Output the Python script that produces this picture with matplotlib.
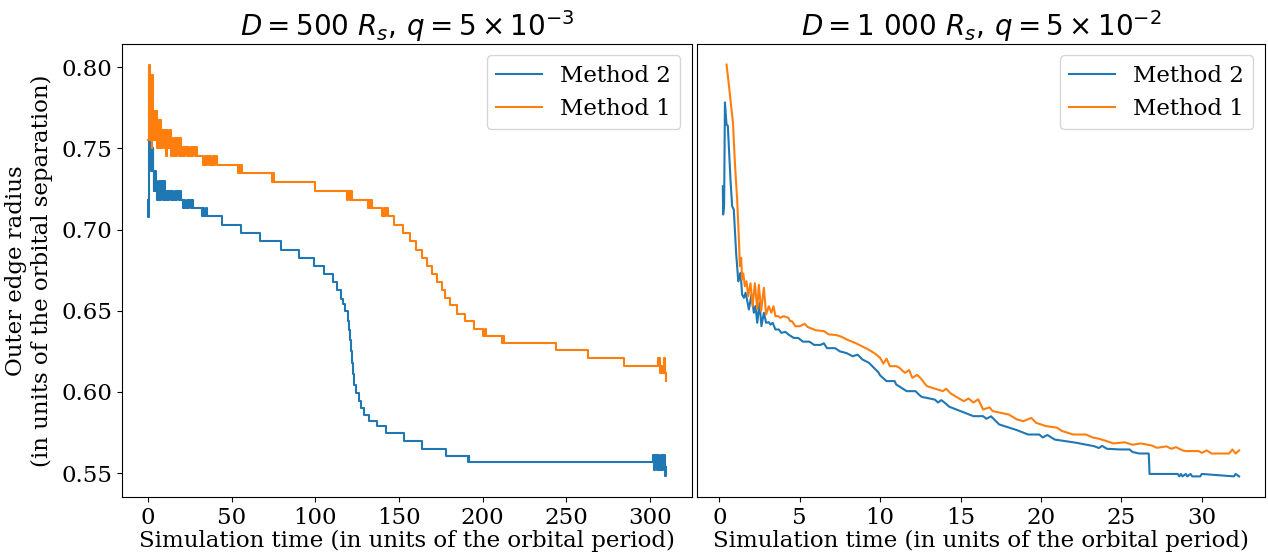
import matplotlib
matplotlib.use("Agg")
import matplotlib.pyplot as plt

# ---- left run: D = 500 Rs, q = 5e-3 (step data) ----
left_m2_t = [0.0, 0.3, 0.6, 0.8, 1.05, 1.3, 1.55, 1.8, 2.1, 2.4, 2.7, 3.0, 3.3,
             3.6, 3.9, 4.2, 4.5, 4.8, 5.1, 5.6, 6.4, 7.2, 8.0, 8.8, 9.6, 10.4,
             11.2, 12.0, 12.8, 13.6, 14.4, 15.2, 16.0, 16.8, 17.6, 18.4, 19.2,
             20.0, 20.8, 21.6, 22.4, 23.2, 24.0, 24.8, 25.6, 26.4, 27.1,
             32.1, 32.9, 33.7, 34.5, 35.3, 36.1, 44.5, 55.7, 67.0, 79.6, 90.0,
             99.0, 105.0, 110.6, 113.0, 115.4, 116.6, 118.0, 119.4, 120.4,
             121.0, 121.6, 122.2, 122.8, 123.4, 124.6, 126.0, 127.4, 129.0,
             132.3, 136.9, 142.5, 152.9, 163.9, 178.4, 191.2, 191.6, 192.0,
             301.6, 302.4, 303.2, 304.0, 304.8, 305.6, 306.4, 307.2, 308.0,
             308.8, 309.2, 309.6]
left_m2_r = [0.718, 0.708, 0.716, 0.7555, 0.740, 0.7555, 0.740, 0.7504, 0.736,
             0.7504, 0.736, 0.7504, 0.736, 0.7237, 0.736, 0.7237, 0.736, 0.7237,
             0.7298, 0.7185, 0.7298, 0.7185, 0.7298, 0.7185, 0.7298, 0.7185,
             0.7237, 0.7185, 0.7237, 0.7185, 0.7237, 0.7185, 0.7237, 0.7185,
             0.7237, 0.7185, 0.7237, 0.7185, 0.7134, 0.7185, 0.7134, 0.7185,
             0.7134, 0.7185, 0.7134, 0.7185, 0.7134,
             0.7083, 0.7134, 0.7083, 0.7134, 0.7083, 0.7083, 0.7031, 0.698,
             0.6929, 0.6877, 0.6826, 0.6775, 0.6724, 0.6676, 0.6627, 0.6574,
             0.6545, 0.6500, 0.6440, 0.6380, 0.6320, 0.6250, 0.6180, 0.6110,
             0.6040, 0.5995, 0.5943, 0.5903, 0.5861, 0.5820, 0.5789, 0.5749,
             0.5697, 0.5650, 0.5605, 0.5568, 0.5605, 0.5568,
             0.5609, 0.5518, 0.5609, 0.5518, 0.5609, 0.5518, 0.5609, 0.5518,
             0.5609, 0.5518, 0.5482, 0.5540]

left_m1_t = [0.2, 0.4, 0.6, 0.8, 1.0, 1.2, 1.5, 1.8, 2.1, 2.4, 2.5, 2.7, 3.0,
             3.2, 3.6, 4.0, 4.4, 4.8, 5.2, 5.9, 6.6, 7.3, 8.0, 8.6, 9.4, 10.2,
             11.0, 11.4, 12.2, 13.0, 13.6, 14.4, 15.2, 16.0, 16.8, 17.6, 18.4,
             19.2, 20.0, 20.8, 21.6, 22.4, 23.2, 24.0, 24.8, 25.6, 26.4, 27.2,
             28.0, 28.8, 29.6, 33.1, 33.9, 34.7, 35.5, 36.3, 37.1, 37.9, 38.7,
             39.5, 40.3, 41.1, 53.7, 54.4, 55.1, 55.8, 56.3, 74.0, 74.7, 75.4,
             100.0, 119.0, 119.8, 120.6, 121.4, 122.2, 131.3, 132.0, 132.7,
             133.4, 134.0, 140.0, 140.8, 141.6, 142.4, 143.2, 146.9, 152.5,
             156.5, 160.4, 163.9, 166.7, 169.6, 172.5, 175.5, 177.8, 180.8,
             184.8, 189.5, 194.8, 200.4, 201.2, 202.0, 211.4, 212.2, 213.0,
             244.0, 262.7, 284.6, 304.9, 305.7, 306.5, 307.3, 308.1, 308.9,
             309.3, 309.6]
left_m1_r = [0.7555, 0.8017, 0.7555, 0.8017, 0.7555, 0.7955, 0.7555, 0.7955,
             0.7555, 0.7955, 0.7504, 0.7955, 0.7555, 0.7729, 0.7555, 0.7729,
             0.7555, 0.7729, 0.7504, 0.7678, 0.7504, 0.7678, 0.7504, 0.7616,
             0.7504, 0.7616, 0.7452, 0.7616, 0.7504, 0.7616, 0.7452, 0.7565,
             0.7452, 0.7565, 0.7452, 0.7565, 0.7452, 0.7565, 0.7452, 0.7507,
             0.7452, 0.7507, 0.7452, 0.7507, 0.7452, 0.7507, 0.7452, 0.7507,
             0.7452, 0.7507, 0.7452, 0.7401, 0.7452, 0.7401, 0.7452, 0.7401,
             0.7452, 0.7401, 0.7452, 0.7401, 0.7452, 0.7401, 0.7350, 0.7401,
             0.7350, 0.7401, 0.7350, 0.7294, 0.7350, 0.7294,
             0.7237, 0.7185, 0.7237, 0.7185, 0.7237, 0.7185, 0.7134, 0.7185,
             0.7134, 0.7185, 0.7134, 0.7083, 0.7134, 0.7083, 0.7134, 0.7083,
             0.7031, 0.6980, 0.6929, 0.6877, 0.6826, 0.6775, 0.6727, 0.6676,
             0.6631, 0.6580, 0.6533, 0.6483, 0.6436, 0.6389, 0.6344, 0.6389,
             0.6344, 0.6299, 0.6344, 0.6299, 0.6257, 0.6210, 0.6163,
             0.6210, 0.6118, 0.6163, 0.6118, 0.6210, 0.6118, 0.6067, 0.6118]

# ---- right run: D = 1 000 Rs, q = 5e-2 ----
right_m2_t = [0.22, 0.24, 0.30, 0.35, 0.45, 0.53, 0.70, 0.80, 0.90, 1.05, 1.18,
              1.22, 1.32, 1.42, 1.53, 1.63, 1.74, 1.84, 2.0, 2.15, 2.25, 2.36,
              2.5, 2.62, 2.77, 2.91, 3.08, 3.18, 3.32, 3.49, 3.7, 3.86, 4.11,
              4.3, 4.63, 4.9, 5.2, 5.6, 5.9, 6.3, 6.5, 6.7, 7.2, 7.5, 7.9, 8.3,
              8.6, 8.9, 9.3, 9.6, 9.9, 10.0, 10.4, 10.9, 11.0, 11.65, 12.2,
              12.4, 12.58, 13.4, 13.6, 13.8, 14.0, 14.3, 15.0, 15.8, 16.4, 16.6,
              16.9, 17.4, 18.5, 19.2, 19.9, 20.1, 20.4, 20.85, 22.2, 23.3, 23.6,
              23.8, 24.1, 24.9, 25.5, 25.7, 26.1, 26.7, 26.75, 28.5, 28.6, 28.7,
              28.8, 29.0, 29.1, 29.3, 29.4, 29.9, 30.0, 32.0, 32.1, 32.32]
right_m2_r = [0.7267, 0.7093, 0.7150, 0.7784, 0.7647, 0.7640, 0.7300, 0.7144,
              0.7124, 0.6850, 0.6682, 0.6700, 0.6734, 0.6600, 0.6580, 0.6611,
              0.6560, 0.6508, 0.6600, 0.6488, 0.6530, 0.6426, 0.6549, 0.6405,
              0.6488, 0.6426, 0.6430, 0.6415, 0.6426, 0.6385, 0.6385, 0.6364,
              0.6370, 0.6354, 0.6333, 0.6333, 0.6310, 0.6310, 0.6290, 0.6290,
              0.6300, 0.6270, 0.6270, 0.6250, 0.6240, 0.6220, 0.6230, 0.6200,
              0.6180, 0.6150, 0.6120, 0.6102, 0.6067, 0.6067, 0.6046, 0.6005,
              0.6005, 0.5985, 0.5970, 0.5953, 0.5935, 0.5950, 0.5935, 0.5909,
              0.5882, 0.5851, 0.5851, 0.5835, 0.5850, 0.5800, 0.5765, 0.5738,
              0.5738, 0.5720, 0.5735, 0.5707, 0.5687, 0.5666, 0.5655, 0.5668,
              0.5650, 0.5646, 0.5646, 0.5630, 0.5621, 0.5621, 0.5495, 0.5495,
              0.5480, 0.5495, 0.5480, 0.5495, 0.5480, 0.5495, 0.5480, 0.5480,
              0.5495, 0.5480, 0.5495, 0.5480]

right_m1_t = [0.45, 0.56, 0.85, 0.97, 1.11, 1.22, 1.28, 1.36, 1.42, 1.49, 1.59,
              1.69, 1.80, 1.94, 2.07, 2.21, 2.36, 2.46, 2.6, 2.77, 2.91, 3.08,
              3.24, 3.37, 3.49, 3.66, 3.8, 4.0, 4.3, 4.4, 4.52, 4.73, 5.0, 5.3,
              5.5, 6.0, 6.5, 6.8, 7.3, 7.6, 8.0, 8.5, 8.9, 9.3, 9.7, 10.0, 10.2,
              10.4, 10.6, 11.0, 11.2, 11.4, 11.55, 11.8, 12.0, 12.3, 12.5, 12.9,
              13.9, 14.1, 14.4, 15.2, 15.5, 15.8, 16.1, 16.4, 16.8, 17.0, 18.0,
              18.5, 18.9, 19.4, 19.7, 20.0, 20.3, 21.0, 21.3, 22.0, 22.8, 23.2,
              23.6, 24.0, 24.5, 25.2, 25.7, 26.2, 26.9, 27.2, 27.8, 28.1, 28.4,
              28.8, 29.0, 29.8, 30.0, 30.3, 30.6, 31.1, 31.7, 31.9, 32.1, 32.32]
right_m1_r = [0.8017, 0.7924, 0.7658, 0.7411, 0.7185, 0.6939, 0.6775, 0.6826,
              0.6693, 0.6730, 0.6651, 0.6682, 0.6590, 0.6670, 0.6528, 0.6670,
              0.6510, 0.6660, 0.6500, 0.6642, 0.6477, 0.6528, 0.6488, 0.6528,
              0.6467, 0.6467, 0.6457, 0.6467, 0.6457, 0.6436, 0.6436, 0.6405,
              0.6405, 0.6420, 0.6400, 0.6380, 0.6375, 0.6355, 0.6350, 0.6340,
              0.6320, 0.6300, 0.6280, 0.6260, 0.6235, 0.6210, 0.6175, 0.6205,
              0.6159, 0.6159, 0.6149, 0.6130, 0.6118, 0.6135, 0.6087, 0.6105,
              0.6087, 0.6036, 0.6005, 0.6020, 0.5990, 0.5943, 0.5960, 0.5935,
              0.5955, 0.5892, 0.5905, 0.5882, 0.5861, 0.5831, 0.5820, 0.5840,
              0.5810, 0.5800, 0.5790, 0.5780, 0.5760, 0.5738, 0.5738, 0.5720,
              0.5712, 0.5700, 0.5683, 0.5690, 0.5675, 0.5683, 0.5670, 0.5656,
              0.5665, 0.5650, 0.5660, 0.5640, 0.5636, 0.5636, 0.5625, 0.5640,
              0.5621, 0.5621, 0.5621, 0.5646, 0.5621, 0.5640]

plt.rcParams["font.family"] = "DejaVu Serif"
plt.rcParams["mathtext.fontset"] = "dejavusans"

fig = plt.figure(figsize=(12.68, 5.53), dpi=100)
ax1 = fig.add_axes([0.0962, 0.1013, 0.4495, 0.8192])
ax2 = fig.add_axes([0.5497, 0.1013, 0.4479, 0.8192], sharey=ax1)

ax1.plot(left_m2_t, left_m2_r, drawstyle="steps-post", label="Method 2")
ax1.plot(left_m1_t, left_m1_r, drawstyle="steps-post", label="Method 1")
ax2.plot(right_m2_t, right_m2_r, label="Method 2")
ax2.plot(right_m1_t, right_m1_r, label="Method 1")

ax1.set_title(r"$D = 500\ R_s,\, q = 5\times10^{-3}$", fontsize=20)
ax2.set_title(r"$D = 1\ 000\ R_s,\, q = 5\times10^{-2}$", fontsize=20)

for ax in (ax1, ax2):
    ax.set_xlabel("Simulation time (in units of the orbital period)", fontsize=16.5, labelpad=1)
    ax.tick_params(labelsize=16.5)
    ax.legend(loc="upper right", fontsize=16.5)

ax1.set_xticks([0, 50, 100, 150, 200, 250, 300])
ax2.set_xticks([0, 5, 10, 15, 20, 25, 30])
ax1.set_ylabel("Outer edge radius\n(in units of the orbital separation)", fontsize=16.5, labelpad=6)
ax2.tick_params(axis="y", left=False, labelleft=False)

fig.savefig("out.png", dpi=100)
